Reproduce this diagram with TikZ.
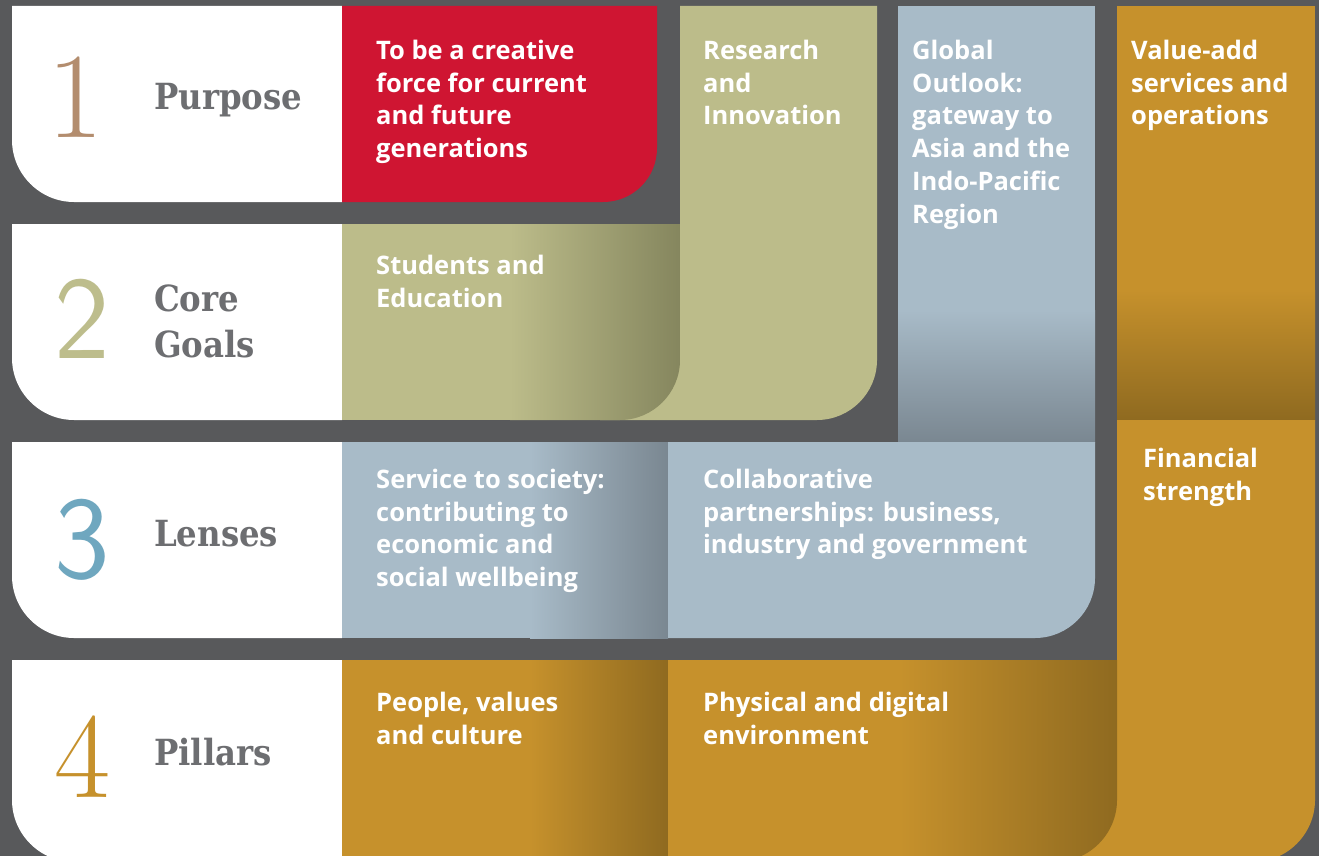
\documentclass[tikz,border=0pt]{standalone}
\usepackage{fontspec}
\newfontfamily\panelfont{Open Sans}
\newfontfamily\labelfont[FakeStretch=0.9]{DejaVu Serif}
\usetikzlibrary{positioning}
\definecolor{bggray}{HTML}{58595B}
\definecolor{labgray}{HTML}{6D6E71}
\definecolor{ured}{HTML}{CF1532}
\definecolor{uolive}{HTML}{BCBC8A}
\definecolor{uolivedk}{HTML}{85865E}
\definecolor{ublue}{HTML}{A8BBC8}
\definecolor{ubluedk}{HTML}{7A8791}
\definecolor{ugold}{HTML}{C6912C}
\definecolor{ugolddk}{HTML}{8F6A20}
\definecolor{num1}{HTML}{B38D6E}
\definecolor{num2}{HTML}{BDBD8C}
\definecolor{num3}{HTML}{6FA7BF}
\definecolor{num4}{HTML}{C6912C}
\tikzset{
  every picture/.style={x=1pt, y=-1pt}}

\begin{document}
\begin{tikzpicture}[
    ptext/.style={anchor=north west, inner sep=0pt, align=left, text=white,
      font={\panelfont\bfseries\fontsize{25.5}{32.7}\selectfont}},
    numtext/.style={anchor=base west, inner sep=0pt,
      font={\fontsize{122}{122}\selectfont}},
    labtext/.style={anchor=base west, inner sep=0pt, align=left, text=labgray,
      font={\labelfont\bfseries\fontsize{36}{46}\selectfont}}]

    \useasboundingbox (0,0) rectangle (1319,856);
    \clip (0,0) rectangle (1319,856);
    \fill[bggray] (0,0) rectangle (1319,856);

    \begin{scope}[fill=white]
      \fill (12,6) -- (342,6) -- (342,202) -- (74,202) .. controls (40,202) and (12,174) .. (12,140) -- cycle;
      \fill (12,224) -- (342,224) -- (342,420) -- (74,420) .. controls (40,420) and (12,392) .. (12,358) -- cycle;
      \fill (12,442) -- (342,442) -- (342,638) -- (74,638) .. controls (40,638) and (12,610) .. (12,576) -- cycle;
      \fill (12,660) -- (342,660) -- (342,862) -- (74,862) .. controls (40,862) and (12,834) .. (12,800) -- cycle;
    \end{scope}

    \fill[uolive] (680,6) -- (877,6) -- (877,360) .. controls (877,393) and (850,420) .. (817,420)
      -- (600,420) -- (600,330) -- (680,330) -- cycle;

    \begin{scope}
      \clip (342,224) -- (680,224) -- (680,360) .. controls (680,393) and (653,420) .. (620,420) -- (342,420) -- cycle;
      \fill[uolive] (342,224) rectangle (680,420);
      \shade[left color=uolive, right color=uolivedk] (510,224) rectangle (680,420);
    \end{scope}

    \fill[ured] (342,6) -- (657,6) -- (657,148) .. controls (657,178) and (633,202) .. (603,202) -- (342,202) -- cycle;

    \fill[ublue] (898,6) rectangle (1095,442);
    \shade[top color=ublue, bottom color=ubluedk] (898,310) rectangle (1095,442);

    \fill[ugold] (1117,6) rectangle (1315,420);
    \shade[top color=ugold, bottom color=ugolddk] (1117,290) rectangle (1315,420);

    \fill[ugold] (1117,420) -- (1315,420) -- (1315,800) .. controls (1315,834) and (1287,862) .. (1253,862)
      -- (1050,862) -- (1050,780) -- (1117,780) -- cycle;

    \begin{scope}
      \clip (342,442) rectangle (668,638);
      \fill[ublue] (342,442) rectangle (668,638);
      \shade[left color=ublue, right color=ubluedk] (530,442) rectangle (668,638);
    \end{scope}

    \fill[ublue] (668,442) -- (1095,442) -- (1095,578) .. controls (1095,611) and (1068,638) .. (1035,638) -- (668,638) -- cycle;

    \begin{scope}
      \clip (342,660) rectangle (668,862);
      \fill[ugold] (342,660) rectangle (668,862);
      \shade[left color=ugold, right color=ugolddk] (530,660) rectangle (668,862);
    \end{scope}

    \begin{scope}
      \clip (668,660) -- (1117,660) -- (1117,800) .. controls (1117,834) and (1089,862) .. (1055,862) -- (668,862) -- cycle;
      \fill[ugold] (668,660) rectangle (1117,862);
      \shade[left color=ugold, right color=ugolddk] (900,660) rectangle (1117,862);
    \end{scope}

    \node[numtext, text=num1] (N1) at (47,137) {1};
    \node[numtext, text=num2, font={\sffamily\fontsize{118}{118}\selectfont}] (N2) at (54,358) {2};
    \node[numtext, text=num3, font={\sffamily\fontsize{118}{118}\selectfont}] (N3) at (54,578) {3};
    \node[numtext, text=num4] (N4) at (54,797) {4};

    \node[labtext] (L1) at (154,110) {Purpose};
    \node[labtext, anchor=north west] (L2) at (154,285) {Core\\Goals};
    \node[labtext] (L3) at (154,546) {Lenses};
    \node[labtext] (L4) at (154,765) {Pillars};

    \node[ptext] (purpose) at (376,40) {To be a creative\\force for current\\and future\\generations};
    \node[ptext] (research) at (703,40) {Research\\and\\Innovation};
    \node[ptext] (global) at (912,40) {Global\\Outlook:\\gateway to\\Asia and the\\Indo-Pacific\\Region};
    \node[ptext] (valueadd) at (1131,40) {Value-add\\services and\\operations};
    \node[ptext] (students) at (376,255) {Students and\\Education};
    \node[ptext] (service) at (376,469) {Service to society:\\contributing to\\economic and\\social wellbeing};
    \node[ptext] (collab) at (703,469) {Collaborative\\partnerships: business,\\industry and government};
    \node[ptext] (finance) at (1143,448) {Financial\\strength};
    \node[ptext] (people) at (376,692) {People, values\\and culture};
    \node[ptext] (physical) at (703,692) {Physical and digital\\environment};
\end{tikzpicture}
\end{document}
